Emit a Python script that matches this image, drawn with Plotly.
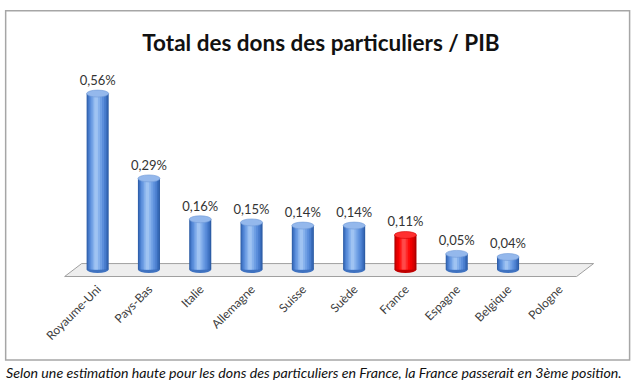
import plotly.graph_objects as go

# ---- data ----
pays = ["Royaume-Uni", "Pays-Bas", "Italie", "Allemagne", "Suisse",
        "Suède", "France", "Espagne", "Belgique", "Pologne"]
valeurs = [0.56, 0.29, 0.16, 0.15, 0.14, 0.14, 0.11, 0.05, 0.04, None]
mise_en_avant = "France"
titre = "Total des dons des particuliers / PIB"
legende = ("Selon une estimation haute pour les dons des particuliers en France, "
           "la France passerait en 3ème position.")

# ---- geometry helpers (pixel layout of the frame) ----
W, H = 640, 387
L, R = 72.35, 585.4          # plot area x (px)
T, B = 80.5, 279.5           # plot area y (px)
y_range = [-0.03, 0.6]


def px_x(p):
    return (p - L) / (R - L)


def px_y(p):
    return (B - p) / (B - T)


blue_layers = ['#2d5da6', '#3a6dbc', '#4a7ece', '#5b8edb', '#6f9fe4', '#86b1ec', '#9fc3f2']
red_layers = ['#a80000', '#c80000', '#e00000', '#f20000', '#ff0a0a', '#ff2a2a', '#ff4a4a']
widths = [0.43, 0.39, 0.34, 0.28, 0.21, 0.14, 0.07]
shifts = [0.0, -0.005, -0.01, -0.015, -0.02, -0.025, -0.03]

fig = go.Figure()
for k, (w, s) in enumerate(zip(widths, shifts)):
    cols = [red_layers[k] if p == mise_en_avant else blue_layers[k] for p in pays]
    fig.add_trace(go.Bar(
        x=pays, y=valeurs, width=w, offset=-w / 2 + s,
        marker=dict(color=cols, line=dict(width=0)),
        hoverinfo="skip", showlegend=False))

labels = [None if v is None else f"{v:.2f}".replace(".", ",") + "%" for v in valeurs]
fig.add_trace(go.Scatter(
    x=pays, y=valeurs, mode="markers+text", text=labels, textposition="top center",
    marker=dict(size=7, color="rgba(0,0,0,0)"), cliponaxis=False,
    textfont=dict(family="Lato", size=13, color="#333333"),
    hoverinfo="skip", showlegend=False))

shapes = []
# chart frame
shapes.append(dict(type="rect", xref="paper", yref="paper",
                   x0=px_x(6), x1=px_x(630), y0=px_y(361), y1=px_y(10),
                   line=dict(color="#a6a6a6", width=1.5), fillcolor="rgba(0,0,0,0)",
                   layer="below"))
# floor
floor_path = (f"M {px_x(82)} {px_y(264)} L {px_x(594)} {px_y(264)} "
              f"L {px_x(577)} {px_y(277)} L {px_x(65)} {px_y(277)} Z")
shapes.append(dict(type="path", xref="paper", yref="paper", path=floor_path,
                   fillcolor="#eeeeee", line=dict(color="#a0a0a0", width=1),
                   layer="below"))

dy = 3.5 / 316.0
hw = widths[0] / 2
for i, (p, v) in enumerate(zip(pays, valeurs)):
    if v is None:
        continue
    red = p == mise_en_avant
    # bottom of cylinder
    shapes.append(dict(type="circle", xref="x", yref="y",
                       x0=i - hw, x1=i + hw, y0=-dy, y1=dy,
                       fillcolor="#c00000" if red else "#3f72c0",
                       line=dict(width=0), layer="below"))
    # top of cylinder
    shapes.append(dict(type="circle", xref="x", yref="y",
                       x0=i - hw, x1=i + hw, y0=v - dy, y1=v + dy,
                       fillcolor="#ff3030" if red else "#94b8ec",
                       line=dict(color="#d00000" if red else "#6f98d6", width=0.6),
                       layer="above"))

fig.update_layout(
    width=W, height=H,
    margin=dict(l=L, r=W - R, t=T, b=H - B),
    paper_bgcolor="white", plot_bgcolor="white",
    barmode="overlay",
    title=dict(text=f"<b>{titre}</b>", x=321 / W, xanchor="center",
               y=1 - 43 / H, yanchor="middle",
               font=dict(family="Lato", size=22.5, color="#111111")),
    xaxis=dict(type="category", range=[-0.5, 9.5], tickangle=-45,
               showline=False, showgrid=False, zeroline=False, ticks="",
               tickfont=dict(family="Lato", size=12, color="#404040")),
    yaxis=dict(visible=False, range=y_range, showgrid=False, zeroline=False),
    shapes=shapes,
    annotations=[dict(text=f"<i>{legende}</i>", xref="paper", yref="paper",
                      x=px_x(4), xanchor="left", y=px_y(373), yanchor="middle",
                      showarrow=False,
                      font=dict(family="Lato", size=14.2, color="#111111"))],
)

fig.write_html("out.html", config={"displayModeBar": False},
               post_script="document.body.style.margin='0px';document.body.style.padding='0px';")
